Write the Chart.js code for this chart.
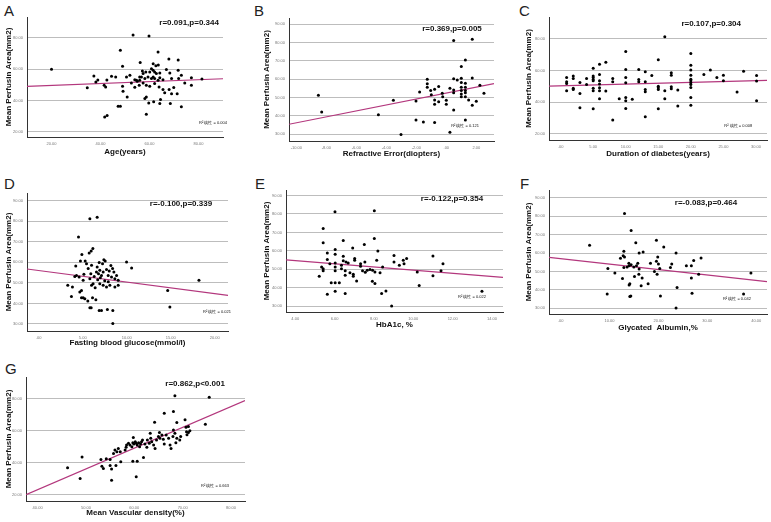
<!DOCTYPE html>
<html>
<head>
<meta charset="utf-8">
<script src="https://cdn.jsdelivr.net/npm/chart.js@4.4.1/dist/chart.umd.min.js"></script>
<style>
  body { margin: 0; background: #fff; width: 771px; height: 522px; position: relative; overflow: hidden;
         font-family: "Liberation Sans", Arial, sans-serif; }
  .panel { position: absolute; }
  .lbl { position: absolute; font-size: 15px; line-height: 1; color: #222; }
</style>
</head>
<body>

<div class="lbl" style="left:4px;top:3px">A</div>
<div class="lbl" style="left:254px;top:3px">B</div>
<div class="lbl" style="left:519px;top:3px">C</div>
<div class="lbl" style="left:4px;top:176px">D</div>
<div class="lbl" style="left:255px;top:176px">E</div>
<div class="lbl" style="left:520px;top:176px">F</div>
<div class="lbl" style="left:5px;top:361px">G</div>

<canvas class="panel" id="cA" width="257" height="161" style="left:0;top:0"></canvas>
<canvas class="panel" id="cB" width="257" height="163" style="left:257px;top:0"></canvas>
<canvas class="panel" id="cC" width="257" height="163" style="left:514px;top:0"></canvas>
<canvas class="panel" id="cD" width="257" height="182" style="left:0;top:170px"></canvas>
<canvas class="panel" id="cE" width="257" height="164" style="left:257px;top:170px"></canvas>
<canvas class="panel" id="cF" width="257" height="167" style="left:514px;top:170px"></canvas>
<canvas class="panel" id="cG" width="257" height="177" style="left:0;top:345px"></canvas>

<script>
// [x, perfusion area]
const ageA = [
  [53.3,81.7],[59.8,81.1],[48.1,72.0],[63.5,70.9],[56.2,64.2],[49.0,61.8],[71.7,65.8],[67.9,66.5],
  [61.5,63.5],[62.6,62.2],[63.6,62.7],[60.8,60.3],[61.5,59.3],[60.1,58.2],[62.1,58.2],[62.8,57.2],
  [64.2,57.6],[58.5,58.2],[57.4,57.2],[56.0,55.0],[54.0,53.3],[54.7,52.9],[56.0,52.9],[58.1,54.0],
  [59.4,55.0],[60.8,54.0],[62.1,54.0],[63.5,52.9],[64.2,54.6],[65.5,53.3],[66.9,59.7],[68.3,57.6],
  [69.0,54.0],[71.7,59.3],[71.9,54.0],[73.0,56.1],[77.1,54.6],[77.1,49.7],[74.4,51.2],[52.0,56.1],
  [50.6,55.0],[46.2,55.0],[44.5,55.5],[41.5,49.7],[42.1,48.7],[49.0,49.1],[49.2,45.9],[50.9,42.3],
  [55.0,52.3],[55.8,49.7],[57.4,51.2],[58.7,49.7],[60.1,49.1],[62.1,50.8],[63.9,48.7],[65.5,47.0],
  [66.2,44.9],[68.0,47.0],[69.0,44.4],[69.9,48.3],[71.3,44.4],[58.1,41.3],[58.7,42.3],[59.7,38.5],
  [61.7,39.2],[64.5,40.6],[64.2,38.1],[68.5,38.1],[73.0,36.0],[58.7,31.3],[47.2,36.4],[48.1,36.4],
  [41.7,29.6],[42.7,30.5],[56.7,55.0],[61.5,55.0],[57.1,58.8],[54.0,48.5],[52.6,51.2],
  [20.0,60.0],[34.6,48.2],[37.3,55.6],[38.1,51.8],[38.9,53.1],[42.6,53.1],[81.4,53.7]
];
const refractB = [
  [-8.53,51.3],[-8.31,42.2],[-4.53,40.7],[-3.53,48.5],[-3.02,30.0],[-2.02,48.2],[-2.02,37.8],
  [-1.78,53.1],[-1.53,36.7],[-1.27,60.0],[-1.27,57.5],[-1.27,55.6],[-1.04,53.8],[-1.00,51.5],
  [-0.78,36.5],[-0.78,48.7],[-0.78,46.4],[-0.78,54.5],[-0.51,56.0],[-0.51,47.8],[-0.27,52.4],
  [-0.24,50.5],[0.00,48.5],[0.00,46.4],[0.24,31.1],[0.24,55.1],[0.49,81.1],[0.49,60.2],[0.49,54.2],
  [0.49,52.7],[0.49,43.3],[0.73,59.6],[1.00,66.9],[1.00,60.5],[1.00,58.2],[1.00,55.6],[1.00,53.8],
  [1.00,52.0],[1.00,50.5],[1.27,70.5],[1.27,57.8],[1.27,55.6],[1.27,53.8],[1.27,52.7],[1.27,50.5],
  [1.27,37.8],[1.49,48.7],[1.73,81.8],[1.73,60.7],[1.73,45.8],[2.00,48.0],[2.24,56.7],[2.51,52.4]
];
const durationC = [
  [0.92,55.6],[0.92,52.8],[0.92,51.8],[0.92,47.2],[1.94,56.4],[1.94,54.9],[1.94,48.7],[1.94,48.0],
  [2.96,52.4],[2.96,45.5],[2.96,36.5],[3.98,54.9],[3.98,51.2],
  [5,61.4],[5,56.4],[5,55.6],[5,54.3],[5,53.5],[5,48.7],[5,47.2],[5,35.9],
  [5.97,63.9],[5.97,57.4],[5.97,53.5],[5.97,51.4],[5.97,49.1],[5.97,47.2],[5.97,42.2],
  [6.94,65.2],[6.94,47.0],[8,28.8],[8,54.9],[8,52.8],[9,42.2],
  [10,71.9],[10,60.6],[10,55.6],[10,52.2],[10,43.0],[10,40.9],[10,36.1],[11,41.8],
  [12,60.6],[12,54.3],[12,52.8],[13,59.1],[13,52.8],[13,48.0],[13,46.6],[13,30.9],[14,56.8],
  [15,66.7],[15,50.1],[15,49.1],[15,48.0],[15,35.9],[16,81.1],[16,47.2],[16,42.2],
  [17,58.5],[17,57.0],[17,49.7],[17,48.5],[18,47.6],[18,37.6],
  [20,70.6],[20,63.3],[20,60.2],[20,57.0],[20,54.5],[20,53.5],[20,52.2],[20,51.2],[20,49.3],[20,43.0],[20,38.0],
  [22,57.4],[23,60.2],[24,55.6],[25,57.0],[25,53.5],[27.1,46.4],[28.1,59.5],[30.1,56.8],[30.1,53.3],[30.1,40.9]
];
const glucoseD = [
  [5.81,81.1],[6.64,81.8],[4.52,72.2],[6.15,66.7],[5.96,65.4],[5.73,64.5],[4.74,60.6],[5.28,60.6],
  [4.21,58.2],[5.43,59.3],[6.0,58.5],[6.87,59.9],[7.4,61.2],[7.55,60.6],[7.25,59.3],[6.64,57.7],
  [6.94,56.1],[6.56,55.2],[6.79,54.4],[7.13,53.6],[7.32,55.2],[7.7,56.4],[8.01,55.7],[8.39,56.9],
  [8.54,55.2],[7.89,53.6],[8.27,52.8],[8.65,52.0],[8.84,53.6],[9.03,51.2],[9.03,48.8],[8.65,48.0],
  [8.08,48.8],[7.7,48.0],[7.32,48.8],[6.94,49.6],[6.18,49.6],[6.0,48.8],[6.41,47.6],[5.81,52.0],
  [5.05,51.2],[4.59,52.8],[4.29,53.5],[4.1,53.1],[5.13,54.1],[3.3,48.8],[3.83,48.0],[4.86,46.3],
  [4.67,45.5],[3.72,43.4],[5.05,42.8],[4.86,42.8],[5.24,42.3],[5.58,41.2],[6.11,42.8],[6.49,41.8],
  [5.81,37.9],[5.96,37.9],[6.87,36.6],[7.13,36.6],[7.8,37.0],[8.42,36.6],[8.42,30.2],[9.98,60.1],
  [5.92,54.4],[5.62,56.9],[7.0,52.5],[7.5,51.0],[6.3,53.0],[7.9,50.5],[6.7,51.5],[8.2,58.4],
  [4.9,63.8],[10.55,57.2],[14.65,46.3],[14.9,38.3],[18.2,51.2]
];
const hba1cE = [
  [6.02,81.2],[8.02,81.7],[5.42,72.1],[5.42,64.4],[6.44,65.6],[8.02,66.7],[8.2,60.0],[6.92,61.6],
  [7.51,63.5],[5.63,58.9],[6.03,60.7],[6.03,58.2],[5.63,55.3],[6.44,57.1],[6.44,54.6],[6.58,54.0],
  [6.69,53.5],[7.02,55.9],[7.02,55.0],[5.76,53.1],[5.42,50.4],[5.34,51.3],[5.42,49.2],[5.22,46.3],
  [6.03,53.5],[6.03,51.3],[6.03,49.2],[6.35,52.2],[6.35,50.4],[6.54,49.2],[6.54,46.8],[6.78,48.1],
  [6.95,47.4],[6.95,46.3],[7.12,43.7],[7.32,51.7],[7.42,49.2],[7.32,53.1],[7.54,54.0],[7.66,49.5],
  [7.56,48.4],[7.8,49.9],[7.93,49.5],[8.05,48.6],[8.31,48.1],[8.44,51.3],[8.14,55.0],[7.92,43.6],
  [8.05,42.3],[5.83,42.7],[6.03,42.7],[6.24,42.7],[6.03,38.1],[5.63,36.5],[6.54,36.9],[8.39,36.9],
  [8.61,38.3],[8.9,30.2],[9.02,57.5],[9.02,54.0],[9.29,52.2],[9.49,55.0],[9.53,53.1],[9.66,55.9],
  [10.2,48.6],[10.3,41.2],[11.0,57.3],[11.0,46.5],[11.41,49.2],[11.51,53.1],[13.49,38.1]
];
const albuminF = [
  [5.92,64.2],[13.06,81.5],[14.42,72.2],[15.37,65.6],[19.59,66.9],[21.09,63.3],[23.6,60.0],[12.93,60.9],
  [12.79,58.5],[13.06,57.8],[12.24,57.1],[16.05,60.0],[16.87,60.5],[13.95,54.5],[14.01,53.1],[13.6,52.4],
  [12.93,52.2],[14.42,53.6],[14.97,52.4],[15.51,53.1],[15.78,54.5],[16.05,51.3],[15.99,48.5],[15.1,47.3],
  [16.67,46.4],[12.65,46.2],[9.66,51.6],[11.09,49.1],[18.37,54.5],[19.59,55.5],[19.86,57.8],[20.0,54.0],
  [19.73,48.5],[19.18,50.0],[20.27,51.6],[22.72,54.0],[22.45,52.2],[25.71,53.1],[26.73,53.1],[27.21,56.0],
  [28.71,57.3],[26.73,46.4],[28.23,48.5],[26.87,38.2],[23.81,41.3],[20.41,36.7],[17.89,43.3],[16.46,42.2],
  [14.01,42.7],[14.15,43.3],[14.15,36.4],[14.35,36.7],[9.52,37.8],[23.6,30.2],[37.41,37.8],[38.91,49.1]
];
const vascularG = [
  [68.4,81.8],[46.2,36.8],[49.2,43.5],[48.8,30.1],[53.1,42.0],[54.2,42.4],[55.0,42.0],[53.3,37.8],
  [53.6,36.4],[55.0,38.2],[55.3,36.1],[56.2,38.2],[55.3,29.0],[57.2,40.5],[59.7,40.8],[60.6,40.8],
  [60.4,31.1],[61.9,43.3],[55.7,45.8],[56.0,47.9],[56.4,46.8],[56.7,48.9],[57.1,46.8],[58.1,47.9],
  [58.3,49.6],[58.4,51.0],[58.8,52.1],[59.1,51.0],[59.5,50.0],[59.7,52.5],[59.9,51.7],[60.2,53.1],
  [60.4,52.1],[60.6,51.0],[60.9,52.5],[61.1,50.0],[61.3,51.7],[61.5,53.1],[61.7,54.2],[59.8,55.8],
  [62.2,51.7],[62.6,49.6],[62.7,54.2],[63.1,52.1],[63.4,55.2],[63.6,53.1],[64.0,51.0],[64.3,48.9],
  [64.6,54.2],[65.0,56.3],[65.2,58.8],[65.3,55.2],[65.7,57.3],[66.0,54.6],[66.2,51.7],[66.6,57.3],
  [67.1,55.2],[67.4,51.0],[67.6,48.9],[68.0,56.3],[68.1,60.5],[68.4,58.4],[68.6,52.5],[68.8,55.2],
  [69.4,54.2],[69.6,56.3],[70.5,66.8],[70.7,62.1],[70.8,59.4],[71.2,58.8],[66.2,70.9],[68.1,72.0],
  [64.2,65.3],[63.3,58.4],[75.5,81.0],[74.7,64.0],[71.2,62.6],[71.5,60.0],[70.9,57.5],[68.8,65.1]
];

// regression lines: [x, y] at the two ends of the x axis
const fitA = [[10, 49.0], [90, 53.9]];
const fitB = [[-10.49, 35.5], [3.18, 57.6]];
const fitC = [[-1.79, 50.1], [31.7, 53.7]];
const fitD = [[-1.33, 56.7], [21.5, 43.9]];
const fitE = [[3.53, 55.1], [14.56, 45.7]];
const fitF = [[-2.38, 57.6], [42.2, 44.5]];
const fitG = [[37.6, 20.0], [82.9, 78.9]];

// tick labels
const ticksA = [20, 40, 60, 80];
const ticksB = [-10, -8, -6, -4, -2, 0, 2];
const ticksC = [0, 5, 10, 15, 20, 25, 30];
const ticksD = [0, 5, 10, 15, 20];
const ticksE = [4, 6, 8, 10, 12, 14];
const ticksF = [0, 10, 20, 30, 40];
const ticksG = [40, 50, 60, 70, 80];
const perfTicks20 = [20, 40, 60, 80];
const perfTicks10 = [30, 40, 50, 60, 70, 80, 90];

const FONT = '"Liberation Sans", Arial, sans-serif';

function fmt(v) {
  if (v === 0) return '.00';
  return v.toFixed(2);
}

const notePlugin = {
  id: 'notes',
  afterDatasetsDraw(chart, args, o) {
    const a = chart.chartArea;
    const c = chart.ctx;
    const w = a.right - a.left, h = a.bottom - a.top;
    c.save();
    c.fillStyle = '#111';
    c.textAlign = 'center';
    c.textBaseline = 'middle';
    c.font = 'bold 8px ' + FONT;
    c.fillText(o.r, a.left + o.rPos[0] * w, a.top + o.rPos[1] * h);
    c.font = '4px ' + FONT;
    c.fillText(o.r2, a.left + o.r2Pos[0] * w, a.top + o.r2Pos[1] * h);
    c.restore();
  }
};

function makePanel(id, pts, fit, p) {
  const ctx = document.getElementById(id).getContext('2d');
  return new Chart(ctx, {
    type: 'scatter',
    data: {
      datasets: [{
        data: pts.map(d => ({ x: d[0], y: d[1] })),
        backgroundColor: '#000',
        borderWidth: 0,
        pointRadius: 1.5,
        order: 1
      }, {
        data: fit.map(d => ({ x: d[0], y: d[1] })),
        showLine: true,
        borderColor: '#b3377d',
        borderWidth: 1.2,
        pointRadius: 0,
        order: 2
      }]
    },
    options: {
      responsive: false,
      animation: false,
      events: [],
      layout: { padding: { left: p.padL, top: p.padT, right: p.padR, bottom: 0 } },
      plugins: {
        legend: { display: false },
        tooltip: { enabled: false },
        notes: { r: p.r, rPos: p.rPos, r2: p.r2, r2Pos: p.r2Pos }
      },
      scales: {
        x: {
          type: 'linear', min: p.xMin, max: p.xMax,
          afterBuildTicks: ax => { ax.ticks = p.xTicks.map(v => ({ value: v })); },
          afterFit: ax => { ax.height = p.xH; },
          grid: { display: false, drawTicks: false },
          border: { display: true, color: '#333', width: 1 },
          ticks: { autoSkip: false, maxRotation: 0, padding: 4, color: '#777',
                   font: { size: 4, family: FONT }, callback: fmt },
          title: { display: true, text: p.xTitle, color: '#111',
                   font: { size: 8, weight: 'bold', family: FONT } }
        },
        y: {
          type: 'linear', min: p.yMin, max: p.yMax,
          afterBuildTicks: ax => { ax.ticks = p.yTicks.map(v => ({ value: v })); },
          afterFit: ax => { ax.width = p.yW; },
          grid: { color: '#bdbdbd', lineWidth: 1, drawTicks: false },
          border: { display: true, color: '#333', width: 1 },
          ticks: { autoSkip: false, padding: 4, color: '#777',
                   font: { size: 4, family: FONT }, callback: fmt },
          title: { display: true, text: 'Mean Perfusin Area(mm2)', color: '#111',
                   font: { size: 8, weight: 'bold', family: FONT } }
        }
      }
    },
    plugins: [notePlugin]
  });
}

makePanel('cA', ageA, fitA, {
  padL: 0, padT: 17, padR: 34, yW: 27, xH: 24,
  xMin: 10, xMax: 90, xTicks: ticksA, yMin: 16.8, yMax: 93.2, yTicks: perfTicks20,
  xTitle: 'Age(years)', r: 'r=0.091,p=0.344', rPos: [0.827, 0.048],
  r2: 'R² 线性 = 0.004', r2Pos: [0.949, 0.883]
});
makePanel('cB', refractB, fitB, {
  padL: 1, padT: 18, padR: 20, yW: 31, xH: 22,
  xMin: -10.49, xMax: 3.18, xTicks: ticksB, yMin: 26.4, yMax: 93.3, yTicks: perfTicks10,
  xTitle: 'Refractive Error(diopters)', r: 'r=0.369,p=0.005', rPos: [0.795, 0.084],
  r2: 'R² 线性 = 0.121', r2Pos: [0.859, 0.878]
});
makePanel('cC', durationC, fitC, {
  padL: 6, padT: 17, padR: 3, yW: 29, xH: 23,
  xMin: -1.79, xMax: 31.7, xTicks: ticksC, yMin: 16.2, yMax: 93.6, yTicks: perfTicks20,
  xTitle: 'Duration of diabetes(years)', r: 'r=0.107,p=0.304', rPos: [0.744, 0.057],
  r2: 'R² 线性 = 0.008', r2Pos: [0.868, 0.886]
});
makePanel('cD', glucoseD, fitD, {
  padL: 0, padT: 23, padR: 29, yW: 27, xH: 21,
  xMin: -1.33, xMax: 21.5, xTicks: ticksD, yMin: 26.6, yMax: 93.6, yTicks: perfTicks10,
  xTitle: 'Fasting blood glucose(mmol/l)', r: 'r=-0.100,p=0.339', rPos: [0.766, 0.075],
  r2: 'R² 线性 = 0.021', r2Pos: [0.945, 0.862]
});
makePanel('cE', hba1cE, fitE, {
  padL: 1, padT: 20, padR: 11, yW: 28, xH: 22,
  xMin: 3.53, xMax: 14.56, xTicks: ticksE, yMin: 26.9, yMax: 93, yTicks: perfTicks10,
  xTitle: 'HbA1c, %', r: 'r=-0.122,p=0.354', rPos: [0.765, 0.071],
  r2: 'R² 线性 = 0.022', r2Pos: [0.857, 0.877]
});
makePanel('cF', albuminF, fitF, {
  padL: 6, padT: 20, padR: 4, yW: 29, xH: 23,
  xMin: -2.38, xMax: 42.2, xTicks: ticksF, yMin: 26.9, yMax: 94.2, yTicks: perfTicks10,
  xTitle: 'Glycated  Albumin,%', r: 'r=-0.083,p=0.464', rPos: [0.720, 0.107],
  r2: 'R² 线性 = 0.042', r2Pos: [0.862, 0.879]
});
makePanel('cG', vascularG, fitG, {
  padL: 0, padT: 32, padR: 12, yW: 26, xH: 21,
  xMin: 37.6, xMax: 82.9, xTicks: ticksG, yMin: 16, yMax: 93.6, yTicks: perfTicks20,
  xTitle: 'Mean Vascular density(%)', r: 'r=0.862,p<0.001', rPos: [0.772, 0.051],
  r2: 'R² 线性 = 0.663', r2Pos: [0.863, 0.879]
});
</script>
</body>
</html>
